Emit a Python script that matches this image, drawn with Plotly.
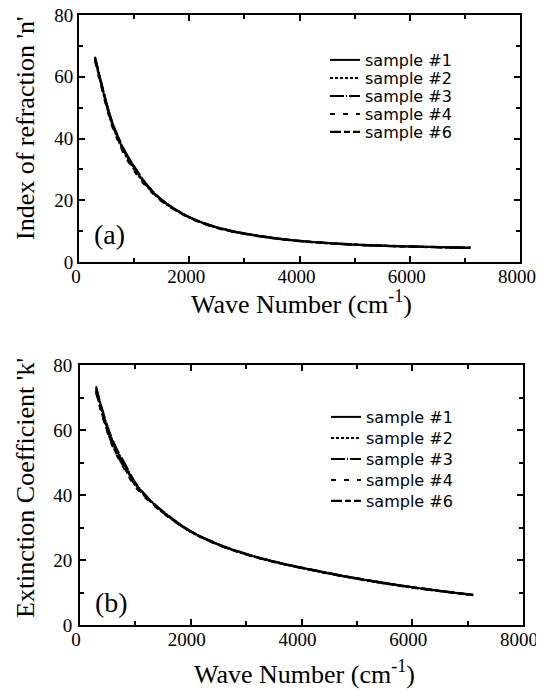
import plotly.graph_objects as go

# ---- data ----
wavenumber = [290, 400, 500, 600, 700, 800, 1000, 1200, 1500, 2000, 2500, 3000, 3500, 4000, 5000, 6000, 7100]

n_sample1 = [66.0, 58.0, 51.0, 45.0, 40.5, 36.5, 30.5, 25.5, 20.0, 14.5, 11.2, 9.2, 7.8, 6.8, 5.6, 5.0, 4.6]
n_sample2 = [65.5, 57.5, 50.5, 44.5, 40.0, 36.0, 30.0, 25.2, 19.8, 14.4, 11.1, 9.1, 7.8, 6.8, 5.6, 5.0, 4.6]
n_sample3 = [66.5, 58.5, 51.5, 45.5, 41.0, 37.0, 31.0, 25.8, 20.2, 14.6, 11.3, 9.3, 7.9, 6.9, 5.7, 5.1, 4.6]
n_sample4 = [65.0, 57.0, 50.0, 44.0, 39.5, 35.5, 29.5, 24.8, 19.6, 14.3, 11.0, 9.1, 7.7, 6.7, 5.6, 5.0, 4.5]
n_sample6 = [66.0, 58.2, 51.2, 45.2, 40.8, 36.8, 30.8, 25.6, 20.1, 14.5, 11.2, 9.2, 7.8, 6.8, 5.6, 5.0, 4.6]

k_sample1 = [73.0, 66.0, 60.5, 56.0, 52.5, 49.5, 43.5, 39.5, 34.8, 28.8, 24.8, 21.8, 19.5, 17.6, 14.3, 11.6, 9.2]
k_sample2 = [72.5, 65.5, 60.0, 55.5, 52.0, 49.0, 43.2, 39.3, 34.7, 28.7, 24.7, 21.7, 19.4, 17.5, 14.2, 11.5, 9.2]
k_sample3 = [73.5, 66.5, 61.0, 56.5, 53.0, 50.0, 43.8, 39.7, 35.0, 28.9, 24.9, 21.9, 19.6, 17.7, 14.4, 11.7, 9.3]
k_sample4 = [71.5, 64.5, 59.0, 54.5, 51.0, 48.0, 42.5, 38.8, 34.4, 28.6, 24.6, 21.7, 19.4, 17.5, 14.2, 11.5, 9.2]
k_sample6 = [72.0, 65.0, 59.5, 55.0, 51.5, 48.5, 43.0, 39.2, 34.6, 28.7, 24.7, 21.8, 19.5, 17.6, 14.3, 11.6, 9.2]

sample_names = ["sample #1", "sample #2", "sample #3", "sample #4", "sample #6"]
n_values = [n_sample1, n_sample2, n_sample3, n_sample4, n_sample6]
k_values = [k_sample1, k_sample2, k_sample3, k_sample4, k_sample6]

x_ticks = [0, 2000, 4000, 6000, 8000]
y_ticks = [0, 20, 40, 60, 80]

x_title = "Wave Number (cm<sup>-1</sup>)"
n_title = "Index of refraction 'n'"
k_title = "Extinction Coefficient 'k'"

# ---- styles ----
dashes = ["solid", "3px,2px", "14px,2px,1px,2px", "5px,8px", "11px,3px,6px,3px"]
widths = [2, 2, 2, 2, 2.4]

# the page body has an 8px margin, so work in screen pixels and convert
OFF = 8
W, H = 544 - OFF, 691 - OFF
ML, MR, MT, MB = 79 - OFF, W - (523 - OFF), 15 - OFF, H - (625 - OFF)
PW, PH = W - ML - MR, H - MT - MB


def py(scr):  # screen row -> paper y
    return (H - MB - (scr - OFF)) / PH


def px(scr):  # screen column -> paper x
    return ((scr - OFF) - ML) / PW


legend_rows_a = [60, 78, 96, 114, 132]
legend_rows_b = [417, 438, 459, 480, 501]
legend_font = dict(family="DejaVu Sans", size=16, color="black")

fig = go.Figure()
layout_legends = {}

for i, name in enumerate(sample_names):
    lname = "legend" if i == 0 else "legend%d" % (i + 1)
    fig.add_trace(go.Scatter(
        x=wavenumber, y=n_values[i], name=name, mode="lines",
        line=dict(color="black", width=widths[i], dash=dashes[i], shape="spline"),
        xaxis="x", yaxis="y", legend=lname,
    ))
    layout_legends[lname] = dict(x=px(325), y=py(legend_rows_a[i]), xanchor="left", yanchor="middle",
                                 bgcolor="rgba(0,0,0,0)", font=legend_font, itemwidth=30)
for i, name in enumerate(sample_names):
    lname = "legend%d" % (i + 6)
    fig.add_trace(go.Scatter(
        x=wavenumber, y=k_values[i], name=name, mode="lines",
        line=dict(color="black", width=widths[i], dash=dashes[i], shape="spline"),
        xaxis="x2", yaxis="y2", legend=lname,
    ))
    layout_legends[lname] = dict(x=px(326), y=py(legend_rows_b[i]), xanchor="left", yanchor="middle",
                                 bgcolor="rgba(0,0,0,0)", font=legend_font, itemwidth=30)

serif = "Liberation Serif, Times New Roman, serif"
tickfont = dict(family=serif, size=19, color="black")
titlefont = dict(family=serif, size=26, color="black")

common_x = dict(
    range=[0, 8000], tickvals=x_ticks, ticks="inside", ticklen=6, tickwidth=1.5,
    showline=True, linecolor="black", linewidth=2, mirror="ticks",
    showgrid=False, zeroline=False, tickfont=tickfont, automargin=False,
    ticklabeloverflow="allow", ticklabelstandoff=-4,
    minor=dict(dtick=1000, ticks="inside", ticklen=4, tickwidth=1.5, tickcolor="black", showgrid=False),
    tickcolor="black",
)
common_y = dict(
    range=[0, 80], tickvals=y_ticks, ticks="inside", ticklen=6, tickwidth=1.5,
    showline=True, linecolor="black", linewidth=2, mirror="ticks",
    showgrid=False, zeroline=False, tickfont=tickfont, automargin=False,
    ticklabeloverflow="allow",
    minor=dict(dtick=10, ticks="inside", ticklen=4, tickwidth=1.5, tickcolor="black", showgrid=False),
    tickcolor="black",
)

fig.update_layout(
    width=W, height=H,
    margin=dict(l=ML, r=MR, t=MT, b=MB),
    paper_bgcolor="white", plot_bgcolor="white",
    xaxis=dict(common_x, domain=[0, px(520)], anchor="y", ticklabelshift=-3),
    yaxis=dict(common_y, domain=[py(262), 1.0], anchor="x"),
    xaxis2=dict(common_x, domain=[px(80), 1.0], anchor="y2", ticklabelshift=-4),
    yaxis2=dict(common_y, domain=[0.0, py(365)], anchor="x2", ticklabelstandoff=2),
    annotations=[
        dict(text="(a)", x=230, y=9, xref="x", yref="y", xanchor="left", yanchor="middle",
             showarrow=False, font=dict(family=serif, size=28, color="black")),
        dict(text="(b)", x=230, y=7, xref="x2", yref="y2", xanchor="left", yanchor="middle",
             showarrow=False, font=dict(family=serif, size=28, color="black")),
        dict(text=x_title, x=px(301), y=py(302), xref="paper", yref="paper",
             xanchor="center", yanchor="middle", showarrow=False, font=titlefont),
        dict(text=x_title, x=px(304), y=py(672), xref="paper", yref="paper",
             xanchor="center", yanchor="middle", showarrow=False, font=titlefont),
        dict(text=n_title, x=px(25), y=py(128), xref="paper", yref="paper", textangle=-90,
             xanchor="center", yanchor="middle", showarrow=False, font=titlefont),
        dict(text=k_title, x=px(25), y=py(488), xref="paper", yref="paper", textangle=-90,
             xanchor="center", yanchor="middle", showarrow=False, font=titlefont),
    ],
    showlegend=True,
    **layout_legends,
)

fig.write_html("out.html")
